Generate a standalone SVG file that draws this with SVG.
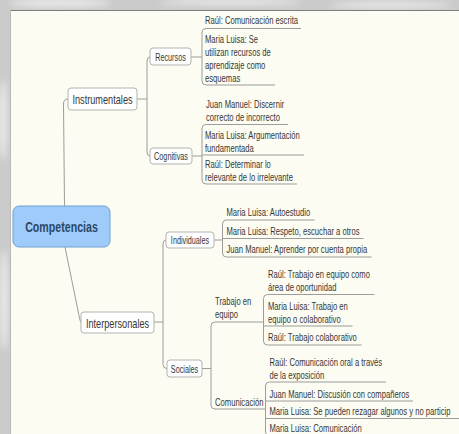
<svg xmlns="http://www.w3.org/2000/svg" width="459" height="434" viewBox="0 0 459 434">
<defs>
<filter id="blur" x="-50%" y="-50%" width="200%" height="200%"><feGaussianBlur stdDeviation="3"/></filter>
<style>
.cn{fill:none;stroke:#9c9c9c;stroke-width:1}
.bx{fill:#fefefe;stroke:#b3b3b3;stroke-width:1}
text{font-family:"Liberation Sans",Arial,sans-serif;fill:#363636}
.lf{font-size:11px}
.nd{font-size:10.5px;text-anchor:middle}
.md{font-size:13.5px;text-anchor:middle}
.rt{font-size:15.5px;font-weight:bold;text-anchor:middle;fill:#2b4868}
</style>
</defs>
<g id="background">
<rect x="0" y="0" width="459" height="434" fill="#cbcbcb"/>
<g filter="url(#blur)" fill="#f2f2f2" opacity="0.8">
<ellipse cx="60" cy="3" rx="50" ry="4"/>
<ellipse cx="230" cy="2" rx="70" ry="3"/>
<ellipse cx="390" cy="5" rx="60" ry="3"/>
<ellipse cx="3" cy="120" rx="4" ry="40"/>
<ellipse cx="4" cy="300" rx="4" ry="50"/>
</g>
<rect x="10" y="10" width="449" height="424" fill="#fcfcf2"/>
<line x1="10" y1="10.5" x2="459" y2="10.5" stroke="#7e7e7e" stroke-width="1"/>
<line x1="10.5" y1="10" x2="10.5" y2="434" stroke="#b9b9b9" stroke-width="1"/>
</g>
<g id="connectors">
<path class="cn" d="M64.5,206 L63.5,104 Q63.5,99 68,99"/>
<path class="cn" d="M65,247 L79.5,318 Q80.3,322 81,322"/>
<path class="cn" d="M137,99 H147"/>
<path class="cn" d="M150,57 Q147,57 147,61 V152 Q147,156 150,156"/>
<path class="cn" d="M154,322 H163"/>
<path class="cn" d="M166,240 Q163,240 163,244 V364.5 Q163,368.5 167,368.5"/>
<path class="cn" d="M191,57 H202"/>
<path class="cn" d="M301,28.5 H206 Q202,28.5 202,32.5 V81 Q202,85 206,85 H275"/>
<path class="cn" d="M192,156 H202"/>
<path class="cn" d="M288,124.5 H206 Q202,124.5 202,128.5 V180 Q202,184 206,184 H297"/>
<path class="cn" d="M202,155 H304"/>
<path class="cn" d="M214,240 H222.5"/>
<path class="cn" d="M314.5,220 H226.5 Q222.5,220 222.5,224 V253 Q222.5,257 226.5,257 H371.5"/>
<path class="cn" d="M222.5,238.5 H363.5"/>
<path class="cn" d="M202,368.5 H211"/>
<path class="cn" d="M263.5,322 H215 Q211,322 211,326 V405 Q211,409 215,409 H265.5"/>
<path class="cn" d="M374.5,294.5 H267.5 Q263.5,294.5 263.5,298.5 V341 Q263.5,345 267.5,345 H361.5"/>
<path class="cn" d="M263.5,326 H352.5"/>
<path class="cn" d="M386,382 H269.5 Q265.5,382 265.5,386 V432 Q265.5,436 269.5,436 H470"/>
<path class="cn" d="M265.5,401 H413"/>
<path class="cn" d="M265.5,418.5 H470"/>
</g>
<g id="competencias">
<rect x="13" y="206" width="97" height="41" rx="6" fill="#9ecbfa" stroke="#719fd2"/>
<text class="rt" transform="matrix(0.687 0 0 1 61.5 232)">Competencias</text>
</g>
<g id="instrumentales">
<rect class="bx" x="68" y="88" width="69" height="22" rx="3"/>
<text class="md" transform="matrix(0.68 0 0 1 102.5 104)">Instrumentales</text>
</g>
<g id="interpersonales">
<rect class="bx" x="81" y="312" width="73" height="21" rx="3"/>
<text class="md" transform="matrix(0.68 0 0 1 117.5 327.5)">Interpersonales</text>
</g>
<g id="recursos">
<rect class="bx" x="150" y="48" width="41" height="17" rx="3"/>
<text class="nd" transform="matrix(0.69 0 0 1 170.5 60.5)">Recursos</text>
</g>
<g id="cognitivas">
<rect class="bx" x="150" y="148" width="42" height="16" rx="3"/>
<text class="nd" transform="matrix(0.69 0 0 1 171 160)">Cognitivas</text>
</g>
<g id="individuales">
<rect class="bx" x="166" y="232" width="48" height="16" rx="3"/>
<text class="nd" transform="matrix(0.69 0 0 1 190 244)">Individuales</text>
</g>
<g id="sociales">
<rect class="bx" x="167" y="360" width="35" height="17" rx="3"/>
<text class="nd" transform="matrix(0.69 0 0 1 184.5 372.5)">Sociales</text>
</g>
<g id="trabajo-en-equipo">
<text class="lf" transform="matrix(0.695 0 0 1 215 304.5)">Trabajo en</text>
<text class="lf" transform="matrix(0.695 0 0 1 215 317.5)">equipo</text>
</g>
<g id="comunicacion">
<text class="lf" transform="matrix(0.695 0 0 1 215 405.5)">Comunicación</text>
</g>
<g id="rec-1"><text class="lf" transform="matrix(0.695 0 0 1 205 24)">Raúl: Comunicación escrita</text></g>
<g id="rec-2">
<text class="lf" transform="matrix(0.695 0 0 1 205 42.5)">Maria Luisa: Se</text>
<text class="lf" transform="matrix(0.695 0 0 1 205 55.5)">utilizan recursos de</text>
<text class="lf" transform="matrix(0.695 0 0 1 205 68.5)">aprendizaje como</text>
<text class="lf" transform="matrix(0.695 0 0 1 205 81.5)">esquemas</text>
</g>
<g id="cog-1">
<text class="lf" transform="matrix(0.695 0 0 1 206 108)">Juan Manuel: Discernir</text>
<text class="lf" transform="matrix(0.695 0 0 1 206 121)">correcto de incorrecto</text>
</g>
<g id="cog-2">
<text class="lf" transform="matrix(0.695 0 0 1 205 138.5)">Maria Luisa: Argumentación</text>
<text class="lf" transform="matrix(0.695 0 0 1 205 151.5)">fundamentada</text>
</g>
<g id="cog-3">
<text class="lf" transform="matrix(0.695 0 0 1 205 167.5)">Raúl: Determinar lo</text>
<text class="lf" transform="matrix(0.695 0 0 1 205 180.5)">relevante de lo irrelevante</text>
</g>
<g id="ind-1"><text class="lf" transform="matrix(0.695 0 0 1 226.5 216)">Maria Luisa: Autoestudio</text></g>
<g id="ind-2"><text class="lf" transform="matrix(0.695 0 0 1 226.5 234.5)">Maria Luisa: Respeto, escuchar a otros</text></g>
<g id="ind-3"><text class="lf" transform="matrix(0.695 0 0 1 226.5 253)">Juan Manuel: Aprender por cuenta propia</text></g>
<g id="tra-1">
<text class="lf" transform="matrix(0.695 0 0 1 268 277.5)">Raúl: Trabajo en equipo como</text>
<text class="lf" transform="matrix(0.695 0 0 1 268 290.5)">área de oportunidad</text>
</g>
<g id="tra-2">
<text class="lf" transform="matrix(0.695 0 0 1 268 309.5)">Maria Luisa: Trabajo en</text>
<text class="lf" transform="matrix(0.695 0 0 1 268 322.5)">equipo o colaborativo</text>
</g>
<g id="tra-3"><text class="lf" transform="matrix(0.695 0 0 1 268 341)">Raúl: Trabajo colaborativo</text></g>
<g id="com-1">
<text class="lf" transform="matrix(0.695 0 0 1 269.5 365.5)">Raúl: Comunicación oral a través</text>
<text class="lf" transform="matrix(0.695 0 0 1 269.5 378.5)">de la exposición</text>
</g>
<g id="com-2"><text class="lf" transform="matrix(0.695 0 0 1 269.5 397.5)">Juan Manuel: Discusión con compañeros</text></g>
<g id="com-3"><text class="lf" transform="matrix(0.695 0 0 1 269.5 415)">Maria Luisa: Se pueden rezagar algunos y no particip</text></g>
<g id="com-4"><text class="lf" transform="matrix(0.695 0 0 1 269.5 432)">Maria Luisa: Comunicación</text></g>
</svg>
